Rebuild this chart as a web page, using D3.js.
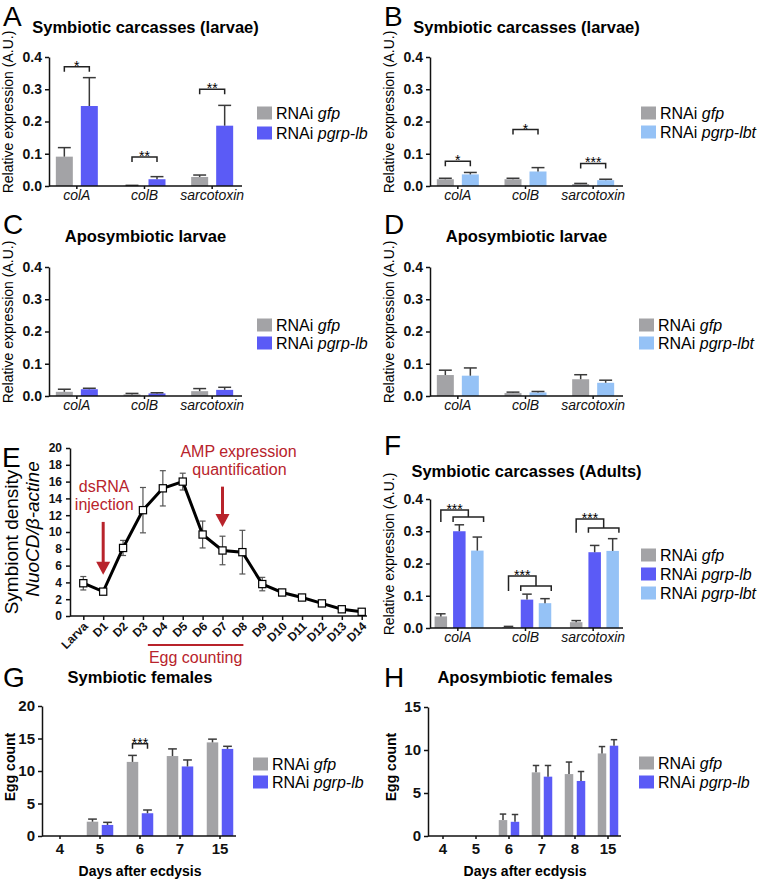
<!DOCTYPE html>
<html>
<head>
<meta charset="utf-8">
<script src="https://cdn.jsdelivr.net/npm/d3@7"></script>
<style>
  body { margin: 0; background: #fff; }
  svg { display: block; font-family: "Liberation Sans", Arial, sans-serif; }
</style>
</head>
<body>
<svg id="fig" width="762" height="884"></svg>
<script>
// ---------------- data ----------------
const genes = ["colA", "colB", "sarcotoxin"];
const days = ["Larva", "D1", "D2", "D3", "D4", "D5", "D6", "D7", "D8", "D9", "D10", "D11", "D12", "D13", "D14"];
const daysG = ["4", "5", "6", "7", "15"];
const daysH = ["4", "5", "6", "7", "8", "15"];

// A  symbiotic carcasses (larvae), gfp vs pgrp-lb
const aGfp = [0.091, 0.001, 0.028], aGfpSem = [0.028, 0.001, 0.006];
const aLb = [0.248, 0.021, 0.187], aLbSem = [0.088, 0.008, 0.063];
const aSig = [["colA", 0.37, "*"], ["colB", 0.09, "**"], ["sarcotoxin", 0.30, "**"]];

// B  symbiotic carcasses (larvae), gfp vs pgrp-lbt
const bGfp = [0.021, 0.021, 0.006], bGfpSem = [0.003, 0.003, 0.002];
const bLbt = [0.036, 0.045, 0.018], bLbtSem = [0.006, 0.012, 0.003];
const bSig = [["colA", 0.077, "*"], ["colB", 0.175, "*"], ["sarcotoxin", 0.070, "***"]];

// C  aposymbiotic larvae, gfp vs pgrp-lb
const cGfp = [0.013, 0.005, 0.015], cGfpSem = [0.008, 0.003, 0.008];
const cLb = [0.021, 0.008, 0.019], cLbSem = [0.003, 0.002, 0.008];

// D  aposymbiotic larvae, gfp vs pgrp-lbt
const dGfp = [0.065, 0.009, 0.052], dGfpSem = [0.015, 0.003, 0.014];
const dLbt = [0.063, 0.011, 0.041], dLbtSem = [0.024, 0.003, 0.008];

// E  symbiont density over time
const density = [3.9, 2.9, 8.1, 12.6, 15.2, 16.0, 9.7, 7.8, 7.6, 3.8, 2.8, 2.2, 1.5, 0.8, 0.5];
const densitySem = [0.8, 0.2, 0.9, 2.7, 2.1, 1.0, 1.6, 1.7, 2.6, 0.8, 0.2, 0.2, 0.1, 0.1, 0.1];

// F  symbiotic carcasses (adults)
const fGfp = [0.036, 0.003, 0.018], fGfpSem = [0.008, 0.002, 0.005];
const fLb = [0.300, 0.088, 0.235], fLbSem = [0.020, 0.017, 0.021];
const fLbt = [0.240, 0.077, 0.239], fLbtSem = [0.042, 0.014, 0.038];
// bracket levels: [gene, top, inner, bottom]
const fSig = [["colA", 0.366, 0.344, 0.329], ["colB", 0.161, 0.130, 0.115], ["sarcotoxin", 0.338, 0.310, 0.295]];

// G  egg counts, symbiotic females
const gGfp = [0, 2.2, 11.4, 12.3, 14.4], gGfpSem = [0, 0.4, 1.0, 1.1, 0.5];
const gLb = [0, 1.7, 3.5, 10.7, 13.4], gLbSem = [0, 0.4, 0.5, 1.0, 0.4];
const gSig = [["6", 14.2, "***"]];

// H  egg counts, aposymbiotic females
const hGfp = [0, 0, 1.85, 7.4, 7.2, 9.6], hGfpSem = [0, 0, 0.7, 0.8, 1.4, 0.8];
const hLb = [0, 0, 1.65, 6.9, 6.4, 10.5], hLbSem = [0, 0, 0.85, 1.3, 1.1, 0.7];

// ---------------- style ----------------
const GRAY = "#a3a3a6", BLUE = "#5b5bf6", LIGHT = "#95c2f6", RED = "#b8232b";
const svg = d3.select("#fig");
svg.append("rect").attr("width", 762).attr("height", 884).attr("fill", "#fff");

function letter(x, y, t) {
  svg.append("text").attr("x", x).attr("y", y).attr("font-size", 28).text(t);
}

function legend(g, x, y, step, items) {
  items.forEach((it, i) => {
    const yy = y + i * step;
    g.append("rect").attr("x", x).attr("y", yy - 6.5).attr("width", 15).attr("height", 13).attr("fill", it[0]);
    const t = g.append("text").attr("x", x + 19).attr("y", yy + 5.5).attr("font-size", 16).text("RNAi ");
    t.append("tspan").attr("font-style", "italic").text(it[1]);
  });
}

function barPanel(c) {
  const g = svg.append("g").attr("transform", `translate(${c.ox},0)`);
  const y = d3.scaleLinear().domain([0, c.yMax]).range([c.y0, c.yTop]);
  const x = d3.scaleBand().domain(c.cats).range(c.band);
  const cx = d => x(d) + x.bandwidth() / 2;

  // title
  g.append("text").attr("x", c.titleX).attr("y", c.titleY).attr("text-anchor", "middle")
    .attr("font-size", 16.5).attr("font-weight", "bold").text(c.title);

  // bars + error bars
  c.series.forEach((s, k) => {
    const rows = c.cats.map((cat, i) => ({ cat, v: s.vals[i], e: s.sems[i] }));
    const bx = d => cx(d.cat) + c.offs[k];
    g.append("g").selectAll("rect").data(rows.filter(d => d.v > 0)).enter().append("rect")
      .attr("x", d => bx(d) - c.bw / 2).attr("width", c.bw)
      .attr("y", d => y(d.v)).attr("height", d => c.y0 - y(d.v))
      .attr("fill", s.color);
    const eb = g.append("g").attr("stroke", "#3a3a3a").attr("stroke-width", 1.5)
      .selectAll("g").data(rows.filter(d => d.v > 0 && d.e > 0)).enter().append("g");
    eb.append("line").attr("x1", bx).attr("x2", bx).attr("y1", d => y(d.v)).attr("y2", d => y(d.v + d.e));
    eb.append("line").attr("x1", d => bx(d) - c.bw * 0.38).attr("x2", d => bx(d) + c.bw * 0.38)
      .attr("y1", d => y(d.v + d.e)).attr("y2", d => y(d.v + d.e));
  });

  // simple brackets between the two series
  (c.sig || []).forEach(s => {
    const xa = cx(s[0]) + c.offs[0], xb = cx(s[0]) + c.offs[1], yy = y(s[1]);
    g.append("path").attr("d", `M${xa},${yy + 5}V${yy}H${xb}V${yy + 5}`)
      .attr("fill", "none").attr("stroke", "#222").attr("stroke-width", 1.5);
    g.append("text").attr("x", (xa + xb) / 2).attr("y", yy + 4).attr("text-anchor", "middle")
      .attr("font-size", 14).text(s[2]);
  });

  // double brackets (one control vs two RNAi)
  (c.sig3 || []).forEach(s => {
    const x0 = cx(s[0]) + c.offs[0];
    const x1 = cx(s[0]) + c.offs[1] - c.bw / 2, x2 = cx(s[0]) + c.offs[2] + c.bw / 2;
    const xm = (x1 + x2) / 2;
    const yt = y(s[1]), yi = y(s[2]), yb = y(s[3]);
    g.append("path").attr("d", `M${x0},${yb}V${yt}H${xm}V${yi}M${x1},${yb}V${yi}H${x2}V${yb}`)
      .attr("fill", "none").attr("stroke", "#222").attr("stroke-width", 1.5);
    g.append("text").attr("x", (x0 + xm) / 2).attr("y", yt + 4).attr("text-anchor", "middle")
      .attr("font-size", 14).text("***");
  });

  // axes
  const ya = g.append("g").attr("transform", `translate(${c.x0},0)`)
    .call(d3.axisLeft(y).tickValues(c.ticks).tickFormat(c.fmt).tickSize(4).tickSizeOuter(0).tickPadding(3));
  ya.selectAll("text").attr("font-size", c.tickFont).attr("font-weight", "bold").attr("fill", "#111");
  const xa = g.append("g").attr("transform", `translate(0,${c.y0})`)
    .call(d3.axisBottom(x).tickSize(3).tickSizeOuter(0));
  xa.select(".domain").attr("d", `M${c.x0},0H${c.x1}`);
  xa.selectAll("text").attr("y", c.catDy).attr("dy", 0).attr("font-size", c.catFont)
    .attr("font-style", c.catItalic ? "italic" : null).attr("font-weight", c.catItalic ? null : "bold").attr("fill", "#111");
  g.selectAll(".domain, .tick line").attr("stroke", "#111").attr("stroke-width", 1.5);
  g.selectAll(".tick text").attr("font-family", "Liberation Sans, Arial, sans-serif");

  // y label
  g.append("text").attr("transform", `translate(${c.ylabX},${c.ylabY}) rotate(-90)`)
    .attr("text-anchor", "middle").attr("font-size", 14)
    .attr("font-weight", c.ylabBold ? "bold" : null).text(c.ylab);

  if (c.xlab) {
    g.append("text").attr("x", c.xlabX).attr("y", c.xlabY).attr("text-anchor", "middle")
      .attr("font-size", 14).attr("font-weight", "bold").text(c.xlab);
  }

  legend(g, c.legX, c.legY, c.legStep, c.series.map(s => [s.color, s.name]));
}

const relBase = {
  x0: 49, x1: 242, band: [43, 246], yMax: 0.4, ticks: [0, 0.1, 0.2, 0.3, 0.4], fmt: d3.format(".1f"),
  cats: genes, tickFont: 14, catFont: 14, catItalic: true, catDy: 14,
  titleX: 145.5, ylab: "Relative expression (A.U.)", ylabX: 13, legX: 257
};

// A
letter(3, 26, "A");
barPanel(Object.assign({}, relBase, {
  ox: 0, y0: 186, yTop: 57, titleY: 33, title: "Symbiotic carcasses (larvae)",
  bw: 17, offs: [-12.5, 12.5], ylabY: 112, legY: 113, legStep: 20, sig: aSig,
  series: [{ name: "gfp", color: GRAY, vals: aGfp, sems: aGfpSem }, { name: "pgrp-lb", color: BLUE, vals: aLb, sems: aLbSem }]
}));
// B
letter(384, 26, "B");
barPanel(Object.assign({}, relBase, {
  ox: 381, y0: 186, yTop: 57, titleY: 33, title: "Symbiotic carcasses (larvae)",
  bw: 17, offs: [-12.5, 12.5], ylabY: 112, legY: 113, legStep: 19, legX: 260, sig: bSig,
  series: [{ name: "gfp", color: GRAY, vals: bGfp, sems: bGfpSem }, { name: "pgrp-lbt", color: LIGHT, vals: bLbt, sems: bLbtSem }]
}));
// C
letter(3, 234, "C");
barPanel(Object.assign({}, relBase, {
  ox: 0, y0: 396, yTop: 267, titleY: 242, title: "Aposymbiotic larvae",
  bw: 17, offs: [-12.5, 12.5], ylabY: 322, legY: 325, legStep: 18,
  series: [{ name: "gfp", color: GRAY, vals: cGfp, sems: cGfpSem }, { name: "pgrp-lb", color: BLUE, vals: cLb, sems: cLbSem }]
}));
// D
letter(384, 234, "D");
barPanel(Object.assign({}, relBase, {
  ox: 381, y0: 396, yTop: 267, titleY: 242, title: "Aposymbiotic larvae",
  bw: 17, offs: [-12.5, 12.5], ylabY: 322, legY: 325, legStep: 18, legX: 258,
  series: [{ name: "gfp", color: GRAY, vals: dGfp, sems: dGfpSem }, { name: "pgrp-lbt", color: LIGHT, vals: dLbt, sems: dLbtSem }]
}));
// F
letter(384, 455, "F");
barPanel(Object.assign({}, relBase, {
  ox: 381, y0: 628, yTop: 499, titleY: 477, title: "Symbiotic carcasses (Adults)",
  bw: 12.5, offs: [-17, 1.5, 19.5], ylabY: 554, legY: 555, legStep: 19, legX: 260, sig3: fSig,
  series: [{ name: "gfp", color: GRAY, vals: fGfp, sems: fGfpSem },
           { name: "pgrp-lb", color: BLUE, vals: fLb, sems: fLbSem },
           { name: "pgrp-lbt", color: LIGHT, vals: fLbt, sems: fLbtSem }]
}));
// G
letter(3, 687, "G");
barPanel({
  ox: 0, x0: 42, x1: 236, band: [40, 240], y0: 836, yTop: 706, yMax: 20, ticks: [0, 5, 10, 15, 20],
  fmt: d3.format("d"), cats: daysG, tickFont: 15, catFont: 15, catItalic: false, catDy: 18,
  titleX: 140, titleY: 683, title: "Symbiotic females", bw: 11.5, offs: [-7.5, 7.5],
  ylab: "Egg count", ylabBold: true, ylabX: 15, ylabY: 767, xlab: "Days after ecdysis", xlabX: 140, xlabY: 876,
  legX: 253, legY: 764, legStep: 18, sig: gSig,
  series: [{ name: "gfp", color: GRAY, vals: gGfp, sems: gGfpSem }, { name: "pgrp-lb", color: BLUE, vals: gLb, sems: gLbSem }]
});
// H
letter(384, 687, "H");
barPanel({
  ox: 381, x0: 47, x1: 240, band: [45.5, 243.5], y0: 836, yTop: 707, yMax: 15, ticks: [0, 5, 10, 15],
  fmt: d3.format("d"), cats: daysH, tickFont: 15, catFont: 15, catItalic: false, catDy: 18,
  titleX: 144, titleY: 683, title: "Aposymbiotic females", bw: 8.5, offs: [-6, 6],
  ylab: "Egg count", ylabBold: true, ylabX: 15, ylabY: 767, xlab: "Days after ecdysis", xlabX: 144, xlabY: 876,
  legX: 258, legY: 763, legStep: 19,
  series: [{ name: "gfp", color: GRAY, vals: hGfp, sems: hGfpSem }, { name: "pgrp-lb", color: BLUE, vals: hLb, sems: hLbSem }]
});

// ---------------- E : symbiont density line ----------------
letter(2, 467, "E");
const ge = svg.append("g");
const xe = d3.scalePoint().domain(days).range([83.3, 361.7]);
const ye = d3.scaleLinear().domain([0, 20]).range([616, 448]);
const pts = days.map((d, i) => ({ d, v: density[i], e: densitySem[i] }));

const eya = ge.append("g").attr("transform", "translate(70,0)")
  .call(d3.axisLeft(ye).tickValues(d3.range(0, 21, 2)).tickSize(4).tickSizeOuter(0).tickPadding(4));
eya.selectAll("text").attr("font-size", 12).attr("font-weight", "bold").attr("fill", "#111");
const exa = ge.append("g").attr("transform", "translate(0,616)")
  .call(d3.axisBottom(xe).tickSize(4).tickSizeOuter(0));
exa.select(".domain").attr("d", "M70,0H367");
exa.selectAll("text").attr("y", 0).attr("dy", 0).attr("text-anchor", "end")
  .attr("transform", "translate(5,11) rotate(-45)")
  .attr("font-size", 12).attr("font-weight", "bold").attr("fill", "#111");
ge.selectAll(".domain, .tick line").attr("stroke", "#111").attr("stroke-width", 1.5);
ge.selectAll(".tick text").attr("font-family", "Liberation Sans, Arial, sans-serif");

// error bars
const eeb = ge.append("g").attr("stroke", "#555").attr("stroke-width", 1.2)
  .selectAll("g").data(pts.filter(p => p.e >= 0.4)).enter().append("g");
eeb.append("line").attr("x1", p => xe(p.d)).attr("x2", p => xe(p.d)).attr("y1", p => ye(p.v - p.e)).attr("y2", p => ye(p.v + p.e));
eeb.append("line").attr("x1", p => xe(p.d) - 3).attr("x2", p => xe(p.d) + 3).attr("y1", p => ye(p.v + p.e)).attr("y2", p => ye(p.v + p.e));
eeb.append("line").attr("x1", p => xe(p.d) - 3).attr("x2", p => xe(p.d) + 3).attr("y1", p => ye(p.v - p.e)).attr("y2", p => ye(p.v - p.e));

ge.append("path").datum(pts)
  .attr("d", d3.line().x(p => xe(p.d)).y(p => ye(p.v)))
  .attr("fill", "none").attr("stroke", "#000").attr("stroke-width", 3);
ge.append("g").selectAll("rect").data(pts).enter().append("rect")
  .attr("x", p => xe(p.d) - 3.6).attr("y", p => ye(p.v) - 3.6).attr("width", 7.2).attr("height", 7.2)
  .attr("fill", "#fff").attr("stroke", "#000").attr("stroke-width", 1.2);

// y label (two lines)
ge.append("text").attr("transform", "translate(18,542) rotate(-90)").attr("text-anchor", "middle")
  .attr("font-size", 19).text("Symbiont density");
ge.append("text").attr("transform", "translate(39,529) rotate(-90)").attr("text-anchor", "middle")
  .attr("font-size", 19).attr("font-style", "italic").text("NuoCD/β-actine");

// annotations
function arrow(x, yFrom, yTo) {
  const a = ye(yFrom), b = ye(yTo);
  ge.append("line").attr("x1", x).attr("x2", x).attr("y1", a).attr("y2", b - 10)
    .attr("stroke", RED).attr("stroke-width", 3);
  ge.append("path").attr("d", `M${x - 7},${b - 13}L${x + 7},${b - 13}L${x},${b}Z`).attr("fill", RED);
}
arrow(xe("D1"), 11.2, 4.9);
arrow(xe("D7"), 15.4, 10.6);
const note = (x, v, t) => ge.append("text").attr("x", x).attr("y", ye(v)).attr("text-anchor", "middle")
  .attr("font-size", 16).attr("fill", RED).text(t);
note(xe("D1") + 1, 14.8, "dsRNA");
note(xe("D1") + 1, 12.6, "injection");
note(xe("D7") + 16, 18.9, "AMP expression");
note(xe("D7") + 17, 16.8, "quantification");
ge.append("line").attr("x1", xe("D4") - 15).attr("x2", xe("D8") + 1).attr("y1", 645).attr("y2", 645)
  .attr("stroke", RED).attr("stroke-width", 2);
ge.append("text").attr("x", (xe("D4") - 15 + xe("D8") + 1) / 2).attr("y", 663).attr("text-anchor", "middle")
  .attr("font-size", 16).attr("fill", RED).text("Egg counting");
</script>
</body>
</html>
